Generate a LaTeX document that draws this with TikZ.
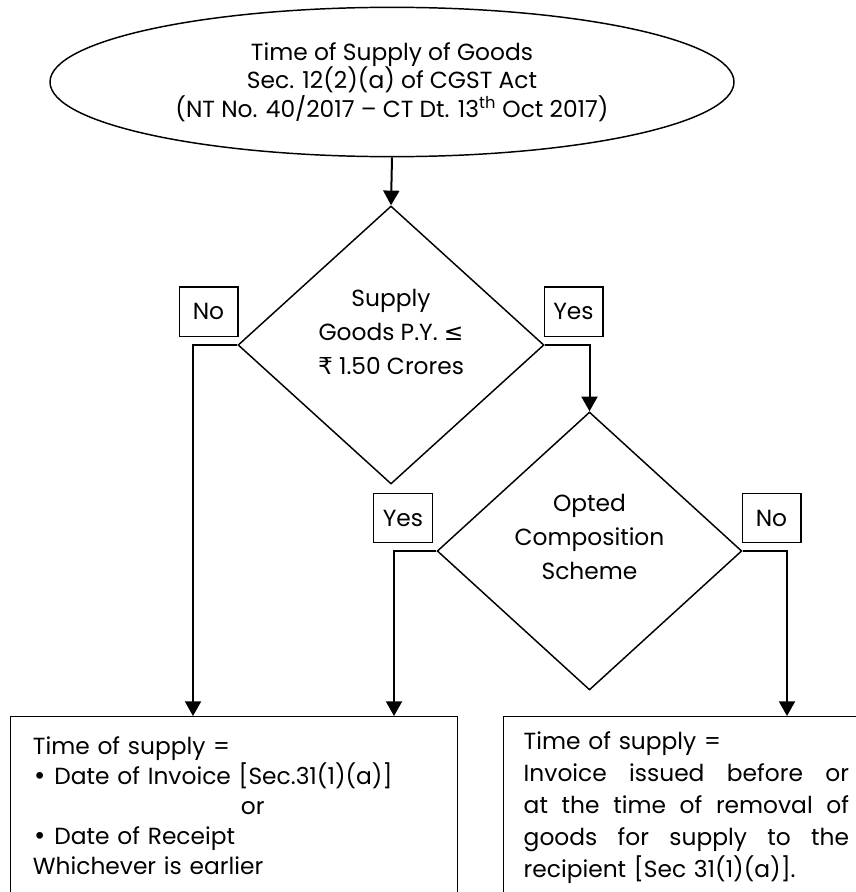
\documentclass[tikz,border=0pt]{standalone}
\usepackage{fontspec}
\setmainfont{Poppins}
\newfontfamily\symfont{DejaVu Sans}
\usetikzlibrary{shapes.geometric,arrows.meta,positioning}

\tikzset{
  startnode/.style={ellipse, draw, line width=1.1pt, minimum width=513pt, minimum height=112pt, inner sep=0pt, align=center, font=\fontsize{17.5}{21.4}\selectfont},
  decision/.style={diamond, draw, line width=1.1pt, inner sep=0pt},
  dtext/.style={align=center, inner sep=0pt, font=\fontsize{17.5}{25.5}\selectfont},
  answer/.style={rectangle, draw, line width=1pt, minimum width=44pt, minimum height=37pt, inner sep=0pt, font=\fontsize{17.5}{20}\selectfont},
  outcome/.style={rectangle, draw, line width=1.1pt, anchor=north west, inner ysep=0pt, align=left},
  flow/.style={-{Triangle[length=11pt,width=12pt]}, line width=1.5pt},
}
\newcommand{\fullline}[1]{\leavevmode\hbox to 244pt{#1}}

\begin{document}
\begin{tikzpicture}[x=0.75pt,y=-0.75pt]
\path[use as bounding box, clip] (0,0) rectangle (856,892);

% start
\node[startnode] (title) at (392,82) {Time of Supply of Goods\\Sec. 12(2)(a) of CGST Act\\(NT No. 40/2017 -- CT Dt. 13\textsuperscript{th} Oct 2017)};

% first question
\node[decision, minimum width=229.5pt, minimum height=208.5pt] (sup) at (391,345) {};
\node[dtext] (suptext) at (391,332) {Supply\\Goods P.Y. {\symfont ≤}\\{\symfont ₹} 1.50 Crores};
\node[answer] (no1) at (208.5,311.5) {No};
\node[answer] (yes1) at (573.5,311.5) {Yes};

% second question
\node[decision, minimum width=228.5pt, minimum height=208.5pt] (opt) at (589.5,551) {};
\node[dtext] (opttext) at (589.5,537) {Opted\\Composition\\Scheme};
\node[answer] (yes2) at (403,518) {Yes};
\node[answer] (no2) at (771.5,518) {No};

% results
\node[outcome, minimum width=335.25pt, minimum height=133.5pt, inner xsep=16.5pt, text width=302pt,
      font=\fontsize{17.5}{22.5}\selectfont] (regular) at (10,716) {Time of supply =\\
{\symfont•}\ Date of Invoice [Sec.31(1)(a)]\\
\hspace*{156pt}or\\
{\symfont•}\ Date of Receipt\\
Whichever is earlier};
\node[outcome, minimum height=136.5pt, inner xsep=15pt, text width=244pt,
      font=\fontsize{17.5}{24}\selectfont] (compo) at (503,716) {Time of supply =\\
\fullline{Invoice\hfill issued\hfill before\hfill or}\\
\fullline{at\hfill the\hfill time\hfill of\hfill removal\hfill of}\\
\fullline{goods\hfill for\hfill supply\hfill to\hfill the}\\
recipient [Sec 31(1)(a)].};

\coordinate (in1) at (193,716);
\coordinate (in2) at (394,716);
\coordinate (in3) at (787,716);

% connectors
\draw[flow] (title.south) -- (sup.north);
\draw[flow] (sup.west) -| (in1);
\draw[flow] (sup.east) -| (opt.north);
\draw[flow] (opt.west) -| (in2);
\draw[flow] (opt.east) -| (in3);
\end{tikzpicture}
\end{document}
